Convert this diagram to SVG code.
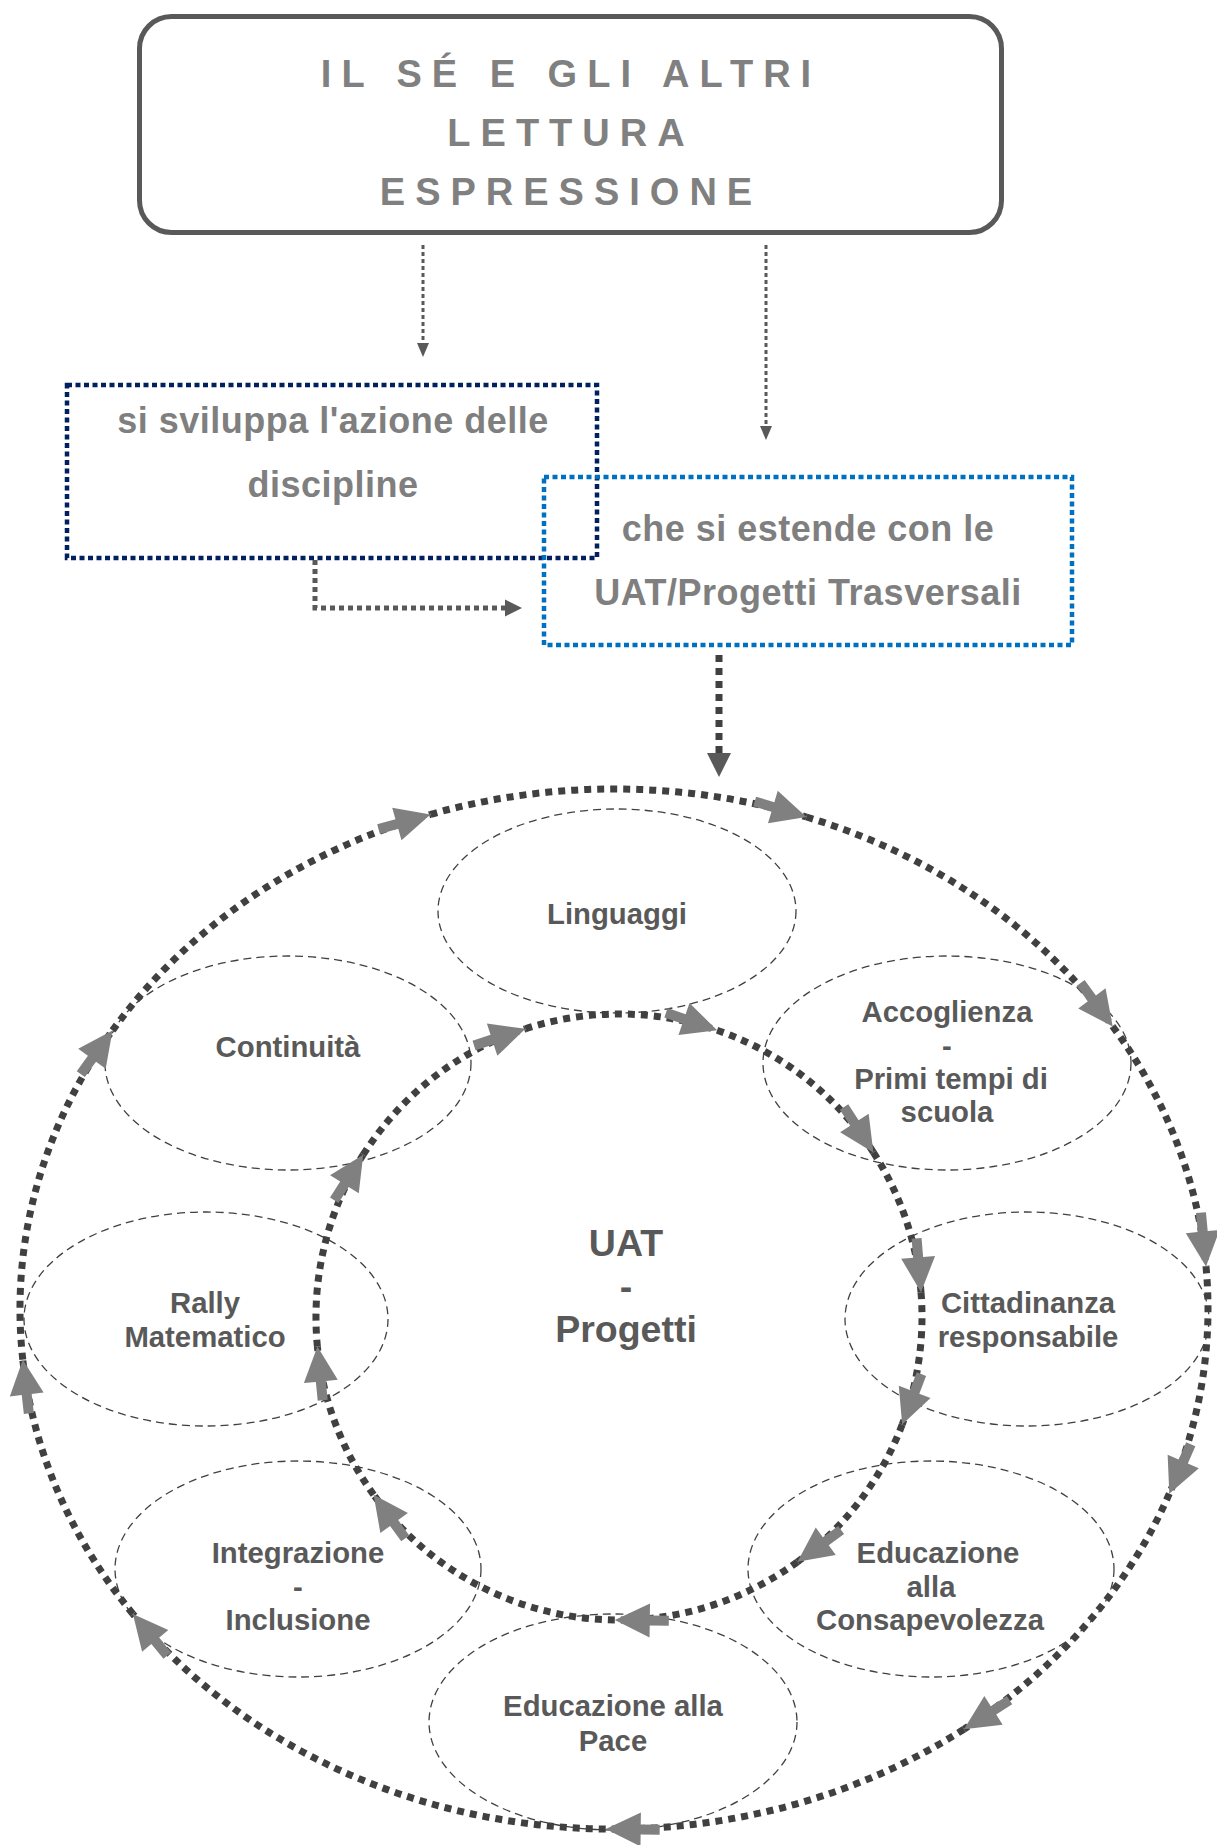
<svg xmlns="http://www.w3.org/2000/svg" width="1217" height="1845" viewBox="0 0 1217 1845">
  <style>
    text { font-family: "Liberation Sans", Arial, sans-serif; font-weight: bold; }
    .title { font-size: 38px; fill: #808080; letter-spacing: 10px; word-spacing: 2px; text-anchor: middle; }
    .lead { font-size: 36px; fill: #7f7f7f; letter-spacing: 0.5px; text-anchor: middle; }
    .lbl { font-size: 29.3px; fill: #595959; text-anchor: middle; }
    .core { font-size: 37.5px; fill: #595959; text-anchor: middle; }
    .topic { fill: none; stroke: #404040; stroke-width: 1.3; stroke-dasharray: 8 5; }
    .thin { fill: none; stroke: #595959; stroke-width: 3; stroke-dasharray: 4 3; }
    .ring { fill: none; stroke: #404040; stroke-width: 7; stroke-dasharray: 7 6; marker-end: url(#ah); }
  </style>
  <defs>
    <marker id="ah" markerUnits="userSpaceOnUse" viewBox="-56 -19 58 38" refX="0" refY="0" markerWidth="58" markerHeight="38" orient="auto">
      <path d="M-54,-5 H-35 V-17 L0,0 L-35,17 V5 H-54 Z" fill="#808080"/>
    </marker>
  </defs>
  <rect width="1217" height="1845" fill="#ffffff"/>

  <!-- heading box -->
  <g id="heading">
    <rect x="139.5" y="16.5" width="862" height="216" rx="32" fill="#ffffff" stroke="#595959" stroke-width="5"/>
    <text class="title" x="571" y="87">IL SÉ E GLI ALTRI</text>
    <text class="title" x="571" y="146">LETTURA</text>
    <text class="title" x="571" y="205">ESPRESSIONE</text>
  </g>

  <!-- discipline box -->
  <g id="discipline">
    <rect x="67" y="385" width="530" height="173" fill="none" stroke="#002060" stroke-width="4.5" stroke-dasharray="5 3.5"/>
    <text class="lead" x="333" y="433">si sviluppa l'azione delle</text>
    <text class="lead" x="333" y="497">discipline</text>
  </g>

  <!-- transversal box -->
  <g id="trasversali">
    <rect x="544" y="477" width="528" height="168" fill="none" stroke="#0070c0" stroke-width="4.5" stroke-dasharray="5 3.5"/>
    <text class="lead" x="808" y="541">che si estende con le</text>
    <text class="lead" x="808" y="605">UAT/Progetti Trasversali</text>
  </g>

  <!-- project topics -->
  <g id="linguaggi">
    <ellipse class="topic" cx="617" cy="911" rx="179" ry="102"/>
    <text class="lbl" x="617" y="924">Linguaggi</text>
  </g>
  <g id="continuita">
    <ellipse class="topic" cx="288" cy="1063" rx="183" ry="107"/>
    <text class="lbl" x="288" y="1057">Continuità</text>
  </g>
  <g id="accoglienza">
    <ellipse class="topic" cx="947" cy="1063" rx="184" ry="107"/>
    <text class="lbl" x="947" y="1022">Accoglienza</text>
    <text class="lbl" x="947" y="1056">-</text>
    <text class="lbl" x="951" y="1089">Primi tempi di</text>
    <text class="lbl" x="947" y="1122">scuola</text>
  </g>
  <g id="rally">
    <ellipse class="topic" cx="206" cy="1319" rx="182" ry="107"/>
    <text class="lbl" x="205" y="1313">Rally</text>
    <text class="lbl" x="205" y="1347">Matematico</text>
  </g>
  <g id="cittadinanza">
    <ellipse class="topic" cx="1027" cy="1319" rx="182" ry="107"/>
    <text class="lbl" x="1028" y="1313">Cittadinanza</text>
    <text class="lbl" x="1028" y="1347">responsabile</text>
  </g>
  <g id="integrazione">
    <ellipse class="topic" cx="298" cy="1569" rx="183" ry="108"/>
    <text class="lbl" x="298" y="1563">Integrazione</text>
    <text class="lbl" x="298" y="1597">-</text>
    <text class="lbl" x="298" y="1630">Inclusione</text>
  </g>
  <g id="consapevolezza">
    <ellipse class="topic" cx="931" cy="1569" rx="183" ry="108"/>
    <text class="lbl" x="938" y="1563">Educazione</text>
    <text class="lbl" x="931" y="1597">alla</text>
    <text class="lbl" x="930" y="1630">Consapevolezza</text>
  </g>
  <g id="pace">
    <ellipse class="topic" cx="613" cy="1722" rx="184" ry="108"/>
    <text class="lbl" x="613" y="1716">Educazione alla</text>
    <text class="lbl" x="613" y="1751">Pace</text>
  </g>

  <!-- centre label -->
  <g id="uat">
    <text class="core" x="626" y="1256">UAT</text>
    <text class="core" x="626" y="1299">-</text>
    <text class="core" x="626" y="1342">Progetti</text>
  </g>

  <g id="connectors">
    <!-- heading to the two boxes -->
    <path class="thin" d="M423,245 V343"/>
    <polygon points="417,343 429,343 423,357" fill="#595959"/>
    <path class="thin" d="M766,245 V426"/>
    <polygon points="760,426 772,426 766,440" fill="#595959"/>

    <!-- discipline box to transversal box -->
    <path d="M315,560 V608 H505" fill="none" stroke="#595959" stroke-width="5" stroke-dasharray="5 4"/>
    <polygon points="505,599.5 505,616.5 522,608" fill="#595959"/>

    <!-- transversal box down to the cycle -->
    <path d="M719,655 V753" fill="none" stroke="#404040" stroke-width="7" stroke-dasharray="7 6"/>
    <polygon points="707,753 731,753 719,777" fill="#595959"/>

    <!-- outer cycle, clockwise -->
    <path class="ring" d="M112.5,1030.4 A594,520 0 0 1 430.5,814.4"/>
    <path class="ring" d="M430.5,814.4 A594,520 0 0 1 806.4,817"/>
    <path class="ring" d="M806.4,817 A594,520 0 0 1 1112.7,1026.5"/>
    <path class="ring" d="M1112.7,1026.5 A594,520 0 0 1 1206,1266.4"/>
    <path class="ring" d="M1206,1266.4 A594,520 0 0 1 1169.3,1493.7"/>
    <path class="ring" d="M1169.3,1493.7 A594,520 0 0 1 964,1729.2"/>
    <path class="ring" d="M964,1729.2 A594,520 0 0 1 605.7,1829"/>
    <path class="ring" d="M605.7,1829 A594,520 0 0 1 132.9,1613.9"/>
    <path class="ring" d="M132.9,1613.9 A594,520 0 0 1 22.8,1359.7"/>
    <path class="ring" d="M22.8,1359.7 A594,520 0 0 1 112.5,1030.4"/>

    <!-- inner cycle, clockwise -->
    <path class="ring" d="M363.2,1154.7 A303,303 0 0 1 525.4,1028.8"/>
    <path class="ring" d="M525.4,1028.8 A303,303 0 0 1 717.1,1030.3"/>
    <path class="ring" d="M717.1,1030.3 A303,303 0 0 1 873.4,1152.4"/>
    <path class="ring" d="M873.4,1152.4 A303,303 0 0 1 921,1292.2"/>
    <path class="ring" d="M921,1292.2 A303,303 0 0 1 902.2,1424.6"/>
    <path class="ring" d="M902.2,1424.6 A303,303 0 0 1 797.5,1561.8"/>
    <path class="ring" d="M797.5,1561.8 A303,303 0 0 1 614.8,1620"/>
    <path class="ring" d="M614.8,1620 A303,303 0 0 1 373.6,1494.7"/>
    <path class="ring" d="M373.6,1494.7 A303,303 0 0 1 317.4,1346.6"/>
    <path class="ring" d="M317.4,1346.6 A303,303 0 0 1 363.2,1154.7"/>
  </g>
</svg>
